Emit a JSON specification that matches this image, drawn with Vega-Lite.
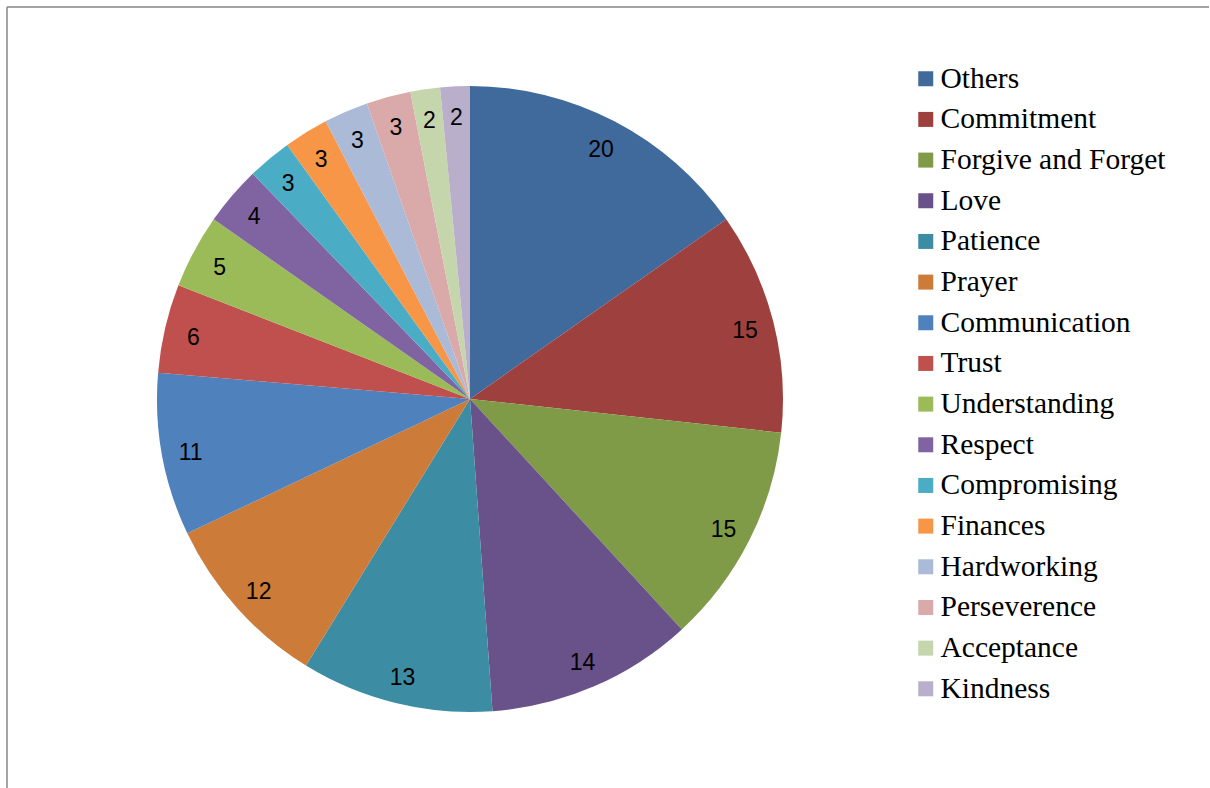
{
  "$schema": "https://vega.github.io/schema/vega-lite/v6.json",
  "autosize": {"type": "pad"},
  "padding": {"left": 6, "top": 6, "right": 0, "bottom": -3},
  "background": "white",
  "spacing": 0,
  "bounds": "flush",
  "datasets": {
    "answers": [
      {"cat": "Others", "n": 20, "i": 1},
      {"cat": "Commitment", "n": 15, "i": 2},
      {"cat": "Forgive and Forget", "n": 15, "i": 3},
      {"cat": "Love", "n": 14, "i": 4},
      {"cat": "Patience", "n": 13, "i": 5},
      {"cat": "Prayer", "n": 12, "i": 6},
      {"cat": "Communication", "n": 11, "i": 7},
      {"cat": "Trust", "n": 6, "i": 8},
      {"cat": "Understanding", "n": 5, "i": 9},
      {"cat": "Respect", "n": 4, "i": 10},
      {"cat": "Compromising", "n": 3, "i": 11},
      {"cat": "Finances", "n": 3, "i": 12},
      {"cat": "Hardworking", "n": 3, "i": 13},
      {"cat": "Perseverence", "n": 3, "i": 14},
      {"cat": "Acceptance", "n": 2, "i": 15},
      {"cat": "Kindness", "n": 2, "i": 16}
    ],
    "none": []
  },
  "hconcat": [
    {
      "width": 926,
      "height": 784,
      "view": {"stroke": "#878787", "strokeWidth": 1.5, "strokeDash": [926, 1710, 784, 0]},
      "data": {"name": "answers"},
      "encoding": {
        "theta": {"field": "n", "type": "quantitative", "stack": true},
        "order": {"field": "i", "type": "quantitative"}
      },
      "layer": [
        {
          "mark": {"type": "arc", "radius": 313},
          "encoding": {
            "color": {
              "field": "cat",
              "type": "nominal",
              "scale": {
                "domain": ["Others", "Commitment", "Forgive and Forget", "Love", "Patience", "Prayer", "Communication", "Trust", "Understanding", "Respect", "Compromising", "Finances", "Hardworking", "Perseverence", "Acceptance", "Kindness"],
                "range": ["#406A9C", "#9E413E", "#7F9B48", "#69518A", "#3C8DA4", "#CC7B38", "#4F81BD", "#C0504D", "#9BBB59", "#8064A2", "#4BACC6", "#F79646", "#AABAD7", "#D9AAA9", "#C6D6AC", "#B9AFCB"]
              },
              "legend": {
                "title": null,
                "orient": "none",
                "legendX": 904,
                "legendY": 57,
                "padding": 0,
                "symbolType": "square",
                "symbolSize": 225,
                "symbolStrokeWidth": 0,
                "labelFont": "Liberation Serif",
                "labelFontSize": 29.5,
                "labelColor": "#000000",
                "labelLimit": 400,
                "labelOffset": 0,
                "rowPadding": 9.67
              }
            }
          }
        },
        {
          "mark": {"type": "text", "radius": 284, "dy": 3, "font": "Liberation Sans", "fontSize": 23, "color": "#000000"},
          "encoding": {
            "text": {"field": "n", "type": "quantitative"}
          }
        }
      ]
    },
    {
      "width": 276,
      "height": 784,
      "view": {"stroke": "#878787", "strokeWidth": 1.5, "strokeDash": [276, 5000]},
      "data": {"name": "none"},
      "mark": "text",
      "encoding": {}
    }
  ]
}
